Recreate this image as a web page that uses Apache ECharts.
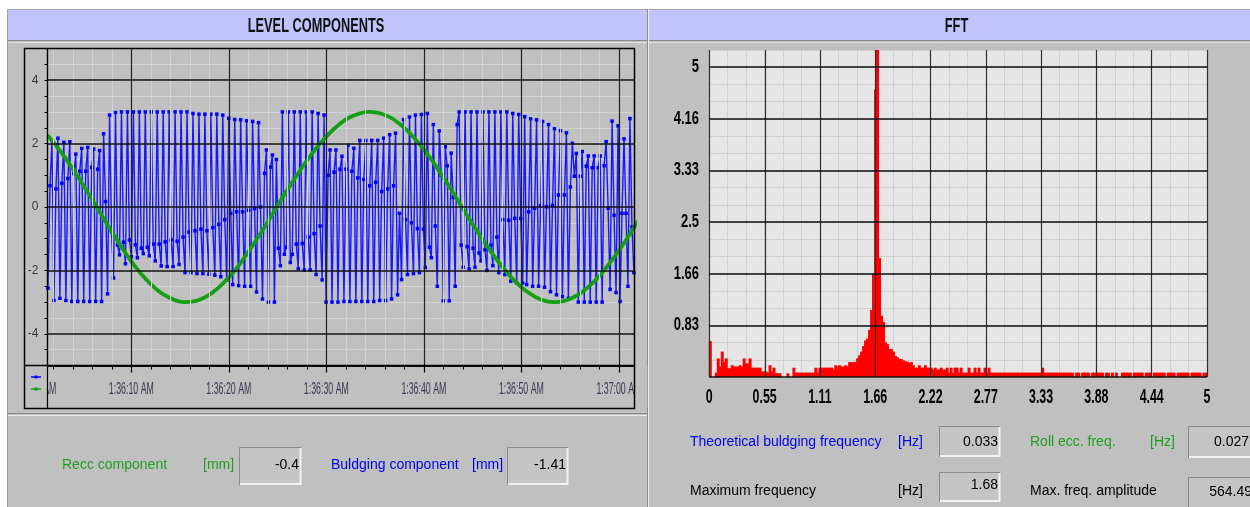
<!DOCTYPE html>
<html><head><meta charset="utf-8">
<script src="https://cdn.jsdelivr.net/npm/echarts@6/dist/echarts.min.js"></script>
<style>html,body{margin:0;padding:0;background:#fff;}#c{width:1250px;height:507px;}</style>
</head><body><div id="c"></div>
<script>
// ---------- DATA ----------
// Level components: time in seconds after 1:36:00 AM
const bulgingStart = 1.45;   // s, first sample
const bulgingStep = 0.2037;  // s, sample period
const bulgingValues = [
 -2.56,0.67,2.10,-2.95,0.57,2.17,-2.88,0.75,2.04,
 -2.95,0.90,2.06,-2.98,1.05,1.67,-2.98,1.13,1.85,
 -2.98,1.13,1.88,-2.98,1.25,1.83,-2.98,1.19,1.78,
 -2.98,2.31,0.17,-2.74,
 2.90,-0.79,-2.24,2.98,-1.20,-1.51,3.00,-1.11,-1.79,
 3.00,-1.04,-1.57,3.00,-1.19,-1.60,3.00,-1.30,-1.47,
 3.00,-1.27,-1.54,3.00,-1.17,-1.70,3.00,-1.17,-1.86,
 3.00,-1.10,-1.88,3.00,-1.04,-1.88,3.00,-1.08,-1.81,
 3.00,-0.95,-2.07,3.00,-0.79,-2.07,
 2.95,-0.75,-2.10,2.93,-0.70,-2.10,2.93,-0.75,-2.12,
 2.93,-0.65,-2.15,2.93,-0.55,-2.20,2.90,-0.40,-2.30,
 2.80,-0.20,-2.45,2.76,-0.15,-2.48,2.75,-0.15,-2.50,
 2.72,-0.10,-2.50,2.70,-0.05,-2.68,2.66,0.00,-2.90,
 1.06,1.80,-3.00,1.26,1.64,-3.00,1.50,-1.30,-1.85,
 3.00,-1.49,-1.27,3.00,-1.75,-1.49,3.00,-1.17,-1.95,
 3.00,-1.15,-1.99,3.00,-0.95,-1.99,3.00,-0.84,-2.13,
 2.95,-0.60,-2.30,
 2.90,
 -3.00,1.00,1.80,-3.00,1.10,1.80,-3.00,1.19,1.60,
 -2.98,1.19,1.94,-2.98,1.13,1.85,-2.98,0.92,2.10,
 -2.98,0.87,2.10,-2.98,0.67,2.10,-2.98,0.78,2.10,
 -2.95,0.49,2.17,-2.95,0.57,2.28,-2.90,0.67,2.33,
 -2.77,
 -0.20,-2.29,2.76,-0.40,-2.13,2.84,-0.50,-2.10,2.90,
 -0.68,-2.07,2.92,-0.70,-1.91,2.95,
 -1.27,-1.60,2.60,-0.60,-2.50,2.40,1.00,-2.96,1.90,
 1.30,-2.96,1.70,0.30,-2.50,2.60,
 3.00,-1.20,-1.90,3.00,-1.25,-1.95,3.00,-1.30,-1.90,
 3.00,-1.45,-1.70,3.00,-1.35,-2.00,3.00,-1.20,-1.85,
 3.00,-0.95,-2.07,3.00,-0.40,-2.13,3.00,-0.42,-2.34,
 2.95,-0.36,-2.40,2.92,-0.36,-2.40,
 2.85,-2.45,-0.15,2.78,-2.50,-0.04,2.75,-2.50,0.04,
 2.70,-2.53,0.01,2.60,-2.67,0.05,2.47,-2.77,0.38,
 2.41,-2.83,0.38,2.34,-2.88,0.63,2.01,
 0.97,1.69,-3.00,0.97,1.75,-3.00,1.29,1.61,-3.00,
 1.24,1.61,-3.00,1.24,1.61,-3.00,
 1.30,2.06,-0.04,-2.60,2.71,-0.26,-2.70,2.56,-2.98,-0.20,2.15,-0.20,-2.50,2.79,-0.63,-2.07
];
const reccStart = 1.4;  // s
const reccStep = 1.0;   // s
const reccValues = [
 2.26,1.89,1.47,1.01,0.53,0.02,
 -0.49,-0.98,-1.45,-1.88,-2.25,-2.55,-2.78,-2.93,-3.00,
 -2.98,-2.87,-2.68,-2.41,-2.08,-1.68,-1.23,-0.76,-0.26,
 0.25,0.73,1.20,1.63,2.02,2.35,2.63,2.83,2.95,3.00,
 2.96,2.85,2.65,2.38,2.04,1.65,1.21,0.74,0.25,
 -0.25,-0.73,-1.20,-1.63,-2.02,-2.36,-2.63,-2.83,-2.96,-3.00,
 -2.96,-2.84,-2.64,-2.37,-2.03,-1.63,-1.20,-0.72,-0.24
];
const levelTickSeconds = [0,10,20,30,40,50,60];
const levelTickLabels = ['1:36:00 AM','1:36:10 AM','1:36:20 AM','1:36:30 AM','1:36:40 AM','1:36:50 AM','1:37:00 AM'];
const levelMinorSeconds = [2,4,6,8,12,14,16,18,22,24,26,28,32,34,36,38,42,44,46,48,52,54,56,58];
const levelMajorY = [-4,-2,0,2,4];

// FFT: bins of 0.02 Hz, centres from 0.01 Hz
const fftStart = 0.01;
const fftStep = 0.02;
const fftValues = [
 0.58,0,0,0.07,0.30,0.17,0.41,0.24,0.30,0.14,
 0.14,0.19,0.17,0.17,0.17,0.19,0.17,0.30,0.22,0.22,
 0.30,0.15,0.15,0.15,0.15,0.15,0.09,0.09,0.09,0.07,
 0.19,0.09,0.15,0.06,0.06,0.06,0,0,0,0.06,
 0,0,0.15,0.07,
 0.07,0.07,0.07,0.07,0.07,0.07,0.07,0.07,0.07,
 0.15,0.07,
 0.15,0.15,0.15,0.15,0.15,0.15,0.15,
 0.12,0.19,0.17,0.19,0.17,0.17,0.19,0.17,
 0.24,0.24,0.24,0.24,
 0.30,0.35,0.41,0.50,0.59,0.62,0.76,1.08,1.67,4.64,5.60,1.92,0.99,0.89,0.56,0.53,0.45,0.45,0.41,0.34,0.32,0.29,0.29,0.27,0.25,0.25,0.22,0.24,0.19,
 0.15,0.15,0.19,0.15,0.15,0.19,0.15,0.15,0.15,0.12,0.15,0.12,0.12,0.15,0.12,0.12,0.15,
 0.07,0.15,0.07,0.15,0.15,0.07,0.15,0.07,0.07,0.07,0.15,0.07,0.07,0.15,0.07,0.15,0.07,0.07,0.15,0.07,0.15,0.07,
 0.07,0.07,0.07,0.07,0.07,0.07,0.07,0.07,0.07,0.07,0.07,0.07,0.07,0.07,0.07,0.07,0.07,0.07,0.07,0.07,0.07,0.07,0.07,0.07,0.07,
 0.15,
 0.07,0.07,0.07,0.07,0.07,0.07,0.07,0.07,0.07,0.07,0.07,0.07,
 0.07,0.07,0.07,0,0.07,0.07,0,0.07,0.07,0.07,
 0.07,0,0.07,0.07,0.07,0.07,0.07,0.07,0,0.07,
 0.07,0,0.07,0,0.07,0,0,0.07,0.07,0.07,
 0.07,0.07,0,0.07,0.07,0.07,0.07,0.07,0,0.07,
 0.07,0.07,0,0.07,0.07,0.07,0.07,0.07,0.07,0,
 0.07,0.07,0.07,0.07,0,0.07,0.07,0.07,0.07,0.07,
 0.07,0,0.07,0.07,0.07,0.07,0.07,0,0.07,0.07
];
const fftXTicks = [0,0.5556,1.1111,1.6667,2.2222,2.7778,3.3333,3.8889,4.4444,5];
const fftXLabels = ['0','0.55','1.11','1.66','2.22','2.77','3.33','3.88','4.44','5'];
const fftYTicks = [0,0.8333,1.6667,2.5,3.3333,4.1667,5];
const fftYLabels = ['','0.83','1.66','2.5','3.33','4.16','5'];

// ---------- CHART ----------
const PANEL = '#C0C0C0', HEADER = '#C2C2FC';
const FONT = '"Liberation Sans", Arial, sans-serif';
const chart = echarts.init(document.getElementById('c'), null, {renderer: 'canvas', width: 1250, height: 507});

const bulgingData = bulgingValues.map((v, i) => [bulgingStart + i * bulgingStep, v]);
const reccData = reccValues.map((v, i) => [reccStart + i * reccStep, v]);
const fftData = fftValues.map((v, i) => [fftStart + i * fftStep, v]);

const levelGridLines = [
  ...levelMinorSeconds.map(s => ({xAxis: s, lineStyle: {color: '#D2D2D2', width: 1, type: 'solid'}})),
  ...levelTickSeconds.filter(s => s > 0).map(s => ({xAxis: s, lineStyle: {color: '#202020', width: 1.2, type: 'solid'}})),
  ...levelMajorY.map(v => ({yAxis: v, lineStyle: {color: '#101010', width: 1.6, type: 'solid'}}))
];
const fftGridLines = [
  ...fftXTicks.map(v => ({xAxis: v, lineStyle: {color: '#303030', width: 1.2, type: 'solid'}})),
  ...fftYTicks.map(v => ({yAxis: v, lineStyle: {color: '#101010', width: 1.6, type: 'solid'}}))
];

const option = {
  animation: false,
  textStyle: {fontFamily: FONT},
  grid: [
    {left: 47.5, top: 48.5, width: 587, height: 317, containLabel: false},
    {left: 709.3, top: 50, width: 497.7, height: 327, show: true, backgroundColor: '#E6E6E6', borderWidth: 0}
  ],
  xAxis: [
    {type: 'value', gridIndex: 0, min: 1.4, max: 61.6, position: 'bottom',
     axisLine: {show: true, onZero: false, lineStyle: {color: '#000', width: 1.5}},
     axisTick: {show: true, customValues: levelMinorSeconds.concat([10,20,30,40,50,60]), length: 4, lineStyle: {color: '#000'}},
     axisLabel: {show: false}, splitLine: {show: false}},
    {type: 'value', gridIndex: 0, min: 1.4, max: 61.6, position: 'bottom',
     axisLine: {show: true, onZero: false, lineStyle: {color: '#000', width: 1.5}},
     axisTick: {show: true, customValues: levelTickSeconds.filter(s => s > 0), length: 7, lineStyle: {color: '#000', width: 1.2}},
     axisLabel: {show: false}, splitLine: {show: false}},
    {type: 'value', gridIndex: 1, min: 0, max: 5, interval: 5 / 27, position: 'bottom',
     axisLine: {show: false}, axisTick: {show: false}, axisLabel: {show: false},
     splitLine: {show: true, lineStyle: {color: '#D0D0D0', width: 1}}}
  ],
  yAxis: [
    {type: 'value', gridIndex: 0, min: -5, max: 5, interval: 0.5,
     axisLine: {show: true, onZero: false, lineStyle: {color: '#000', width: 1.2}},
     axisTick: {show: true, length: 3, lineStyle: {color: '#000'}},
     axisLabel: {show: true, margin: 9, fontSize: 12, color: '#383838', fontFamily: FONT,
       formatter: v => { const r = Math.round(v * 100) / 100; return (Number.isInteger(r) && r % 2 === 0 && Math.abs(r) < 5) ? String(r) : ''; }},
     splitLine: {show: true, lineStyle: {color: '#D2D2D2', width: 1}}},
    {type: 'value', gridIndex: 1, min: 0, max: 95 / 18, interval: 5 / 18,
     axisLine: {show: false}, axisTick: {show: false}, axisLabel: {show: false},
     splitLine: {show: true, lineStyle: {color: '#D0D0D0', width: 1}}}
  ],
  series: [
    {type: 'line', xAxisIndex: 0, yAxisIndex: 0, data: [], z: 1, silent: true,
     markLine: {silent: true, symbol: ['none', 'none'], label: {show: false}, animation: false,
       lineStyle: {type: 'solid'}, emphasis: {disabled: true}, data: levelGridLines}},
    {name: 'Buldging', type: 'line', xAxisIndex: 0, yAxisIndex: 0, data: bulgingData, z: 3,
     symbol: 'rect', symbolSize: 3.5, showAllSymbol: true,
     lineStyle: {color: '#1818ff', width: 1.4}, itemStyle: {color: '#0000ff'}},
    {name: 'Recc', type: 'line', xAxisIndex: 0, yAxisIndex: 0, data: reccData, z: 4, smooth: true,
     symbol: 'none', lineStyle: {color: '#12a012', width: 3.8}},
    {type: 'line', xAxisIndex: 2, yAxisIndex: 1, data: [], z: 1, silent: true,
     markLine: {silent: true, symbol: ['none', 'none'], label: {show: false}, animation: false,
       lineStyle: {type: 'solid'}, emphasis: {disabled: true}, data: fftGridLines}},
    {name: 'FFT', type: 'bar', xAxisIndex: 2, yAxisIndex: 1, data: fftData, z: 3,
     barWidth: 3, itemStyle: {color: '#ff0000'}, clip: true}
  ]
};
chart.setOption(option);

// ---------- DECORATION & TEXT ----------
function T(x, y, text, o) {
  o = o || {};
  const al = o.align || 'left';
  return {type: 'text', x: x, y: y, z: 100, silent: true, scaleX: o.sx || 1,
    style: {text: text, fill: o.color || '#000', fontSize: o.size || 14, fontWeight: o.weight || 'normal',
      fontFamily: FONT, align: al, verticalAlign: 'middle', textAlign: al, textVerticalAlign: 'middle'}};
}
function R(x, y, w, h, fill, z) {
  return {type: 'rect', z: z, silent: true, shape: {x: x, y: y, width: w, height: h}, style: {fill: fill}};
}
function L(x1, y1, x2, y2, stroke, lw, z) {
  return {type: 'line', z: z, silent: true, shape: {x1: x1, y1: y1, x2: x2, y2: y2}, style: {stroke: stroke, lineWidth: lw}};
}
function box(x, y, w, h) {
  return [
    R(x, y, w, h, '#C5C5C5', 100),
    {type: 'polyline', z: 100, silent: true, shape: {points: [[x + 0.5, y + h], [x + 0.5, y + 0.5], [x + w, y + 0.5]]}, style: {stroke: '#8a8a8a', lineWidth: 1, fill: null}},
    {type: 'polyline', z: 100, silent: true, shape: {points: [[x + w - 0.5, y + 1], [x + w - 0.5, y + h - 1], [x + 1, y + h - 1]]}, style: {stroke: '#f2f2f2', lineWidth: 2, fill: null}}
  ];
}

const g = [];
// backgrounds
g.push(R(7, 9, 641, 498, PANEL, -10));
g.push(R(648, 9, 602, 498, PANEL, -10));
g.push(R(8, 10, 639, 30, HEADER, -9));
g.push(R(649, 10, 601, 30, HEADER, -9));
g.push(L(7, 9.5, 1250, 9.5, '#a8a8a8', 1, -8));
g.push(L(7, 40.5, 1250, 40.5, '#8a8a8a', 1, -8));
g.push(L(7, 42.5, 1250, 42.5, '#e4e4e4', 1, -8));
g.push(L(7.5, 9, 7.5, 507, '#a0a0a0', 1, -8));
g.push(L(647.5, 9, 647.5, 507, '#8a8a8a', 1, -8));
g.push(L(648.5, 9, 648.5, 507, '#f0f0f0', 1, -8));
g.push(L(8, 413.5, 647, 413.5, '#8a8a8a', 1, -8));
g.push(L(8, 415.5, 647, 415.5, '#ececec', 1, -8));

// time labels of the level chart (positions from the axis scale)
levelTickSeconds.forEach((s, i) => {
  const px = chart.convertToPixel({xAxisIndex: 0}, s);
  g.push(T(px, 390, levelTickLabels[i], {align: 'center', size: 16, sx: 0.55, color: '#3e3650'}));
});
// covers clipping the labels to the chart frame
g.push(R(8, 366.2, 39.2, 41.5, PANEL, 100));
g.push(R(634.9, 366.2, 12.5, 41.5, PANEL, 100));
// frame
g.push({type: 'rect', z: 100, silent: true, shape: {x: 24.5, y: 48.5, width: 610, height: 360}, style: {fill: null, stroke: '#000', lineWidth: 1.5}});
g.push(L(24.5, 365.5, 634.5, 365.5, '#000', 1.5, 100));
g.push(L(47.5, 48.5, 47.5, 408.5, '#000', 1.2, 100));
// legend markers
g.push(L(31, 377, 41, 377, '#0000ff', 1.5, 100));
g.push(R(34.5, 375.5, 3, 3, '#0000ff', 100));
g.push(L(31, 389, 41, 389, '#10a010', 1.5, 100));
g.push(R(34.5, 387.5, 3, 3, '#10a010', 100));

// FFT labels (positions from the axis scales)
fftXTicks.forEach((v, i) => {
  const px = chart.convertToPixel({xAxisIndex: 2}, v);
  g.push(T(px, 397, fftXLabels[i], {align: 'center', size: 21, weight: 'bold', sx: 0.59}));
});
fftYTicks.forEach((v, i) => {
  if (!fftYLabels[i]) return;
  const py = chart.convertToPixel({yAxisIndex: 1}, v);
  g.push(T(699, py, fftYLabels[i], {align: 'right', size: 18, weight: 'bold', sx: 0.72}));
});

// headers
g.push(T(316, 26, 'LEVEL COMPONENTS', {align: 'center', size: 20, weight: 'bold', sx: 0.64, color: '#111'}));
g.push(T(956.5, 26, 'FFT', {align: 'center', size: 20, weight: 'bold', sx: 0.64, color: '#111'}));

// bottom fields
const GREEN = '#1E9E1E', BLUE = '#0000F0';
g.push(T(62, 465, 'Recc component', {color: GREEN}));
g.push(T(203, 465, '[mm]', {color: GREEN}));
box(239, 447, 62, 38).forEach(e => g.push(e));
g.push(T(299, 465, '-0.4', {align: 'right'}));
g.push(T(331, 465, 'Buldging component', {color: BLUE}));
g.push(T(472, 465, '[mm]', {color: BLUE}));
box(507, 447, 61, 38).forEach(e => g.push(e));
g.push(T(566, 465, '-1.41', {align: 'right'}));

g.push(T(690, 442, 'Theoretical buldging frequency', {color: BLUE}));
g.push(T(898, 442, '[Hz]', {color: BLUE}));
box(939, 426, 61, 31).forEach(e => g.push(e));
g.push(T(998, 442, '0.033', {align: 'right'}));
g.push(T(1030, 442, 'Roll ecc. freq.', {color: GREEN}));
g.push(T(1150, 442, '[Hz]', {color: GREEN}));
box(1188, 426, 64, 32).forEach(e => g.push(e));
g.push(T(1249, 442, '0.027', {align: 'right'}));

g.push(T(690, 491, 'Maximum frequency'));
g.push(T(898, 491, '[Hz]'));
box(939, 472, 61, 30).forEach(e => g.push(e));
g.push(T(998, 485, '1.68', {align: 'right'}));
g.push(T(1030, 491, 'Max. freq. amplitude'));
box(1188, 477, 64, 32).forEach(e => g.push(e));
g.push(T(1252, 492, '564.49', {align: 'right'}));

chart.setOption({graphic: {elements: g}});
</script></body></html>
